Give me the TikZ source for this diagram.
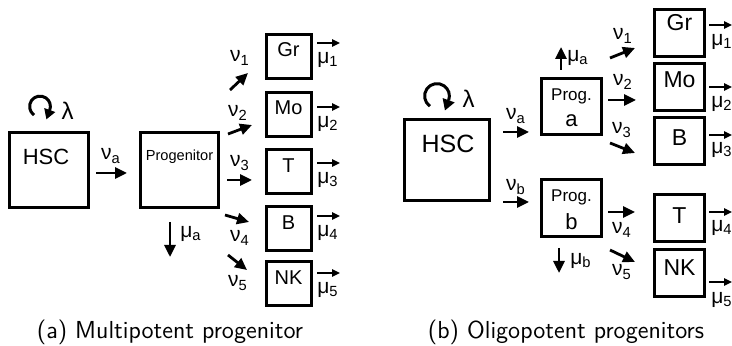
\documentclass[tikz,border=0pt]{standalone}
\usepackage{fontspec}
\newfontfamily\diagfont{Liberation Sans}
\usepackage{tikz}
\usetikzlibrary{arrows.meta}

\tikzset{
  cell/.style={draw, line width=1.5pt, inner sep=0pt},
  celltext/.style={inner sep=0pt, font=\diagfont\fontsize{#1}{#1}\selectfont},
  celltext/.default=10,
  flow/.style={line width=1.4pt, -{Triangle[length=6pt,width=5.5pt]}},
  efflux/.style={line width=1pt, -{Triangle[length=4pt,width=3.6pt]}},
  selfloop/.style={line width=1.5pt},
  rate/.style={inner sep=0pt, font=\diagfont\fontsize{10.5}{10.5}\selectfont},
  caption/.style={inner sep=0pt, font=\sffamily\fontsize{12.3}{12.3}\selectfont},
}

\begin{document}
\begin{tikzpicture}[x=0.5pt,y=-0.5pt]
		\useasboundingbox (0,0) rectangle (732,346);
		% (a) one multipotent progenitor
		\node[cell, minimum width=39.5pt, minimum height=37.5pt] (hscA) at (49,170) {};
		\node[celltext=11] (hscAtxt) at (46,157) {HSC};
		\coordinate (loopA) at (40,106.5);
		\coordinate (loopB) at (437,96);
		% self renewal loops
		\begin{scope}[x=1pt,y=1pt]
			\draw[selfloop] ([shift={(235:5.2)}]loopA) arc[start angle=235, end angle=-20, radius=5.2] coordinate (loopAe);
			\draw[flow, -{Triangle[length=5pt,width=5.5pt]}] (loopAe) -- ++(250:5);
			\draw[selfloop] ([shift={(235:6.2)}]loopB) arc[start angle=235, end angle=-20, radius=6.2] coordinate (loopBe);
			\draw[flow, -{Triangle[length=5.5pt,width=6pt]}] (loopBe) -- ++(250:5.5);
		\end{scope}
		\node[rate, font=\diagfont\fontsize{12}{12}\selectfont] (lamA) at (67.5,110.5) {λ};
		\node[cell, minimum width=39pt, minimum height=37.5pt] (prog) at (179.5,170) {};
		\node[celltext=7.3] (progtxt) at (179.5,157) {Progenitor};
		\draw[flow, shorten <=3pt, shorten >=6pt] (hscA.east |- 0,173) -- (prog.west |- 0,173);
		\node[rate] (nuaA) at (111,156) {ν\textsubscript{a}};
		\coordinate (muaAs) at (170,222);
		\coordinate (muaAe) at (170,257);
		\draw[flow] (muaAs) -- (muaAe);
		\node[rate] (muaA) at (191,234) {μ\textsubscript{a}};
		% lineages
		\foreach \name/\cy/\ty/\ay/\i in {Gr/56.5/50/43/1, Mo/115/107.5/107/2, T/172/166/163/3, B/228.5/223/216/4, NK/283.5/278/273/5}
		{
			\node[cell, minimum width=22.5pt, minimum height=22pt] (a\name) at (289,\cy) {};
			\node[celltext] (a\name txt) at (288.5,\ty) {\name};
			\coordinate (a\name o) at (317,\ay);
			\coordinate (a\name e) at (340,\ay);
			\draw[efflux] (a\name o) -- (a\name e);
			\node[rate] (amu\i) at (328,\ay+17) {μ\textsubscript{\i}};
		}
		\foreach \i/\sx/\sy/\ex/\ey/\lx/\ly in {1/230/90/248/73/240/58, 2/228/134/252/125/238/113, 3/227/180/252/180/240/163, 4/225/215/249/222/240/238, 5/228/255/247/270/238/283}
		{
			\coordinate (anu\i s) at (\sx,\sy);
			\coordinate (anu\i e) at (\ex,\ey);
			\draw[flow] (anu\i s) -- (anu\i e);
			\node[rate] (anu\i) at (\lx,\ly) {ν\textsubscript{\i}};
		}
		\node[caption] (capA) at (170,332) {(a) Multipotent progenitor};

		% (b) two oligopotent progenitors
		\node[cell, minimum width=42.5pt, minimum height=40.5pt] (hscB) at (447,160) {};
		\node[celltext=12.5] (hscBtxt) at (448,144) {HSC};
		\node[rate, font=\diagfont\fontsize{12}{12}\selectfont] (lamB) at (468.5,98.5) {λ};
		\node[cell, minimum width=30pt, minimum height=28pt] (proga) at (571.5,106.5) {};
		\node[celltext=8.5] (progatxt) at (571.5,96.5) {Prog.};
		\node[celltext=11] (progalbl) at (571.5,121) {a};
		\node[cell, minimum width=30pt, minimum height=28.5pt] (progb) at (571.5,208) {};
		\node[celltext=8.5] (progbtxt) at (571.5,197.5) {Prog.};
		\node[celltext=11] (progblbl) at (571.5,221.5) {b};
		\draw[flow, shorten <=6pt, shorten >=5.5pt] (hscB.east |- 0,132) -- (proga.west |- 0,132);
		\draw[flow, shorten <=6pt, shorten >=5.5pt] (hscB.east |- 0,202) -- (progb.west |- 0,202);
		\node[rate] (nuaB) at (516,116) {ν\textsubscript{a}};
		\node[rate] (nubB) at (516,187) {ν\textsubscript{b}};
		\coordinate (muaBs) at (561,70);
		\coordinate (muaBe) at (561,47);
		\draw[flow] (muaBs) -- (muaBe);
		\node[rate] (muaB) at (578,58) {μ\textsubscript{a}};
		\coordinate (mubBs) at (559,248);
		\coordinate (mubBe) at (559,273);
		\draw[flow] (mubBs) -- (mubBe);
		\node[rate] (mubB) at (581,261) {μ\textsubscript{b}};
		% lineages
		\foreach \name/\cy/\ty/\ay/\my/\i in {Gr/33.5/23/25/42/1, Mo/87.5/80/87/104/2, B/141/138/135/150/3, T/218/216/212/228/4, NK/273/268/282/300/5}
		{
			\node[cell, minimum width=25pt, minimum height=23.5pt] (b\name) at (679.5,\cy) {};
			\node[celltext=11.5] (b\name txt) at (679.5,\ty) {\name};
			\coordinate (b\name o) at (709,\ay);
			\coordinate (b\name e) at (732,\ay);
			\draw[efflux] (b\name o) -- (b\name e);
			\node[rate] (bmu\i) at (722,\my) {μ\textsubscript{\i}};
		}
		\foreach \i/\sx/\sy/\ex/\ey/\lx/\ly in {1/610/58/635/48/623/36, 2/608/100/636/100/623/82, 3/610/143/635/153/622/130, 4/608/212/635/212/622/230, 5/610/250/635/262/622/272}
		{
			\coordinate (bnu\i s) at (\sx,\sy);
			\coordinate (bnu\i e) at (\ex,\ey);
			\draw[flow] (bnu\i s) -- (bnu\i e);
			\node[rate] (bnu\i) at (\lx,\ly) {ν\textsubscript{\i}};
		}
		\node[caption] (capB) at (566,332) {(b) Oligopotent progenitors};
	\end{tikzpicture}
\end{document}
